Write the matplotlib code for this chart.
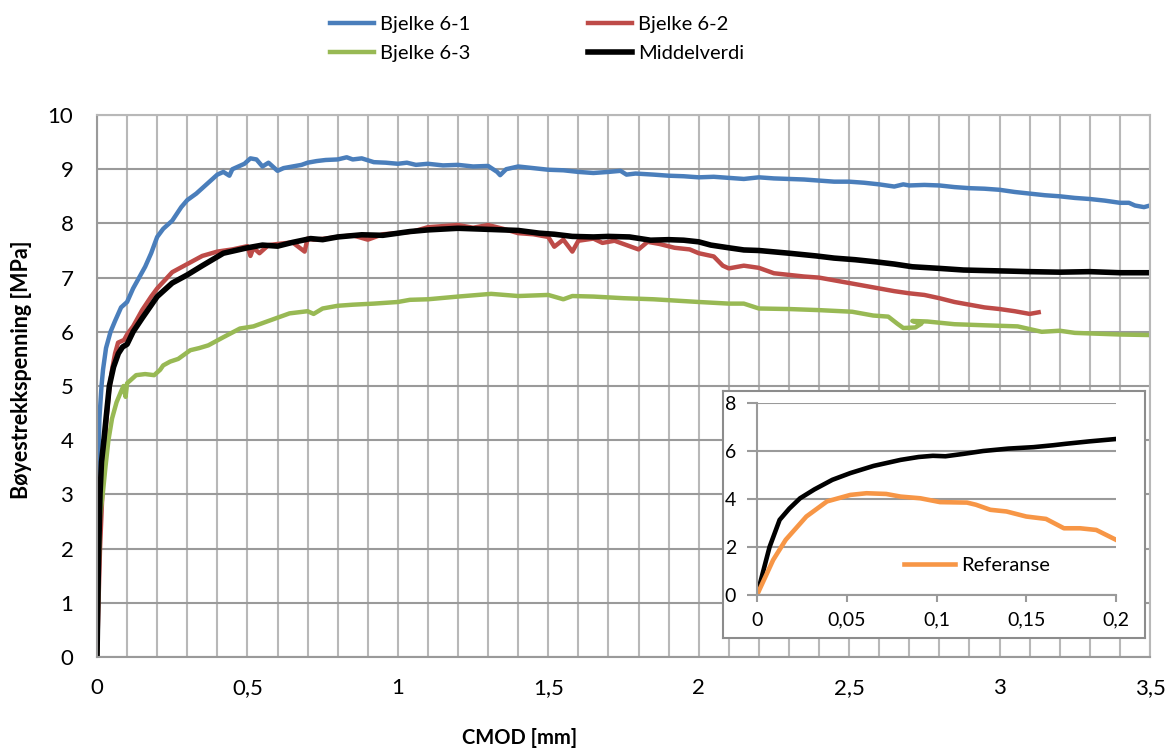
import matplotlib
matplotlib.use("Agg")
import matplotlib.pyplot as plt

plt.rcParams['font.family'] = ['Lato', 'DejaVu Sans']

# Bjelke 6-1
x1 = [0, 0.003, 0.008, 0.015, 0.02, 0.03, 0.045, 0.06, 0.08, 0.09, 0.1, 0.12, 0.14, 0.16, 0.18,
      0.2, 0.22, 0.25, 0.28, 0.3, 0.33, 0.36, 0.38, 0.4, 0.42, 0.44, 0.45, 0.47, 0.49, 0.51,
      0.53, 0.55, 0.57, 0.6, 0.62, 0.65, 0.68, 0.7, 0.73, 0.76, 0.8, 0.83, 0.85, 0.88, 0.92,
      0.96, 1.0, 1.03, 1.06, 1.1, 1.15, 1.2, 1.25, 1.3, 1.33, 1.34, 1.36, 1.4, 1.45, 1.5,
      1.55, 1.6, 1.65, 1.7, 1.74, 1.76, 1.79, 1.85, 1.9, 1.95, 2.0, 2.05, 2.1, 2.15, 2.2,
      2.25, 2.3, 2.35, 2.4, 2.45, 2.5, 2.55, 2.6, 2.65, 2.68, 2.7, 2.75, 2.8, 2.85, 2.9,
      2.95, 3.0, 3.05, 3.1, 3.15, 3.2, 3.25, 3.3, 3.35, 3.4, 3.43, 3.45, 3.48, 3.5]
y1 = [0, 3.2, 4.4, 5.0, 5.3, 5.7, 6.0, 6.2, 6.45, 6.5, 6.55, 6.8, 7.0, 7.2, 7.45,
      7.75, 7.9, 8.05, 8.3, 8.43, 8.55, 8.7, 8.8, 8.9, 8.95, 8.88, 9.0, 9.05, 9.1, 9.2,
      9.18, 9.05, 9.12, 8.97, 9.02, 9.05, 9.08, 9.12, 9.15, 9.17, 9.18, 9.22, 9.18, 9.2, 9.13,
      9.12, 9.1, 9.12, 9.08, 9.1, 9.07, 9.08, 9.05, 9.06, 8.95, 8.89, 9.0, 9.05, 9.02, 8.99,
      8.98, 8.95, 8.93, 8.95, 8.97, 8.9, 8.92, 8.9, 8.88, 8.87, 8.85, 8.86, 8.84, 8.82, 8.85,
      8.83, 8.82, 8.81, 8.79, 8.77, 8.77, 8.75, 8.72, 8.68, 8.72, 8.7, 8.71, 8.7, 8.67, 8.65,
      8.64, 8.62, 8.58, 8.55, 8.52, 8.5, 8.47, 8.45, 8.42, 8.38, 8.38, 8.33, 8.3, 8.33]

# Bjelke 6-2
x2 = [0, 0.005, 0.01, 0.02, 0.03, 0.04, 0.05, 0.06, 0.07, 0.09, 0.1, 0.12, 0.15, 0.18, 0.2,
      0.25, 0.3, 0.35, 0.4, 0.45, 0.5, 0.51, 0.52, 0.54, 0.57, 0.6, 0.65, 0.69, 0.7, 0.72,
      0.76, 0.8, 0.85, 0.9, 0.95, 1.0, 1.05, 1.1, 1.15, 1.2, 1.25, 1.3, 1.35, 1.4, 1.45,
      1.5, 1.52, 1.55, 1.58, 1.6, 1.65, 1.68, 1.72, 1.76, 1.8, 1.83, 1.87, 1.92, 1.97, 2.0,
      2.05, 2.08, 2.1, 2.15, 2.2, 2.25, 2.3, 2.35, 2.4, 2.45, 2.5, 2.55, 2.6, 2.65, 2.7,
      2.75, 2.8, 2.85, 2.9, 2.95, 3.0, 3.05, 3.1, 3.13]
y2 = [0, 1.0, 2.0, 3.3, 4.3, 4.9, 5.3, 5.6, 5.8, 5.85, 5.95, 6.1, 6.4, 6.65, 6.8,
      7.1, 7.25, 7.4, 7.48, 7.52, 7.58, 7.4, 7.55, 7.45, 7.6, 7.62, 7.65, 7.48, 7.72, 7.7,
      7.72, 7.75, 7.78, 7.7, 7.8, 7.82, 7.85, 7.93, 7.95, 7.97, 7.92, 7.97, 7.9, 7.82, 7.8,
      7.75, 7.57, 7.7, 7.48, 7.68, 7.72, 7.64, 7.68, 7.6, 7.52, 7.66, 7.62, 7.55, 7.52, 7.45,
      7.39, 7.22, 7.17, 7.22, 7.18, 7.08, 7.05, 7.02, 7.0, 6.95, 6.9, 6.85, 6.8, 6.75, 6.71,
      6.68, 6.62, 6.55, 6.5, 6.45, 6.42, 6.38, 6.33, 6.36]

# Bjelke 6-3
x3 = [0, 0.005, 0.01, 0.019, 0.028, 0.038, 0.05, 0.065, 0.08, 0.088, 0.095, 0.1, 0.11, 0.13, 0.16,
      0.19, 0.21, 0.22, 0.243, 0.27, 0.31, 0.34, 0.37, 0.42, 0.475, 0.52, 0.58, 0.64, 0.7, 0.72,
      0.75, 0.8, 0.85, 0.92, 1.0, 1.04, 1.1, 1.2, 1.31, 1.4, 1.5, 1.55, 1.58, 1.65, 1.75,
      1.85, 1.91, 2.0, 2.1, 2.15, 2.2, 2.3, 2.4, 2.51, 2.58, 2.63, 2.66, 2.68, 2.72, 2.74,
      2.71, 2.76, 2.85, 2.95, 3.06, 3.14, 3.2, 3.25, 3.3, 3.4, 3.5]
y3 = [0, 1.5, 2.6, 3.0, 3.5, 4.0, 4.4, 4.7, 4.9, 5.0, 4.8, 5.05, 5.1, 5.2, 5.22,
      5.2, 5.3, 5.38, 5.45, 5.5, 5.66, 5.7, 5.75, 5.9, 6.06, 6.1, 6.22, 6.34, 6.38, 6.33,
      6.43, 6.48, 6.5, 6.52, 6.55, 6.59, 6.6, 6.65, 6.7, 6.66, 6.68, 6.6, 6.66, 6.65, 6.62,
      6.6, 6.58, 6.55, 6.52, 6.52, 6.43, 6.42, 6.4, 6.37, 6.3, 6.28, 6.15, 6.07, 6.08, 6.15,
      6.2, 6.19, 6.14, 6.12, 6.1, 6.0, 6.02, 5.98, 5.97, 5.95, 5.94]

# Middelverdi
xm = [0, 0.005, 0.01, 0.015, 0.023, 0.03, 0.041, 0.055, 0.071, 0.085, 0.1, 0.12, 0.15, 0.2, 0.25,
      0.3, 0.35, 0.42, 0.5, 0.55, 0.6, 0.65, 0.71, 0.75, 0.8, 0.88, 0.95, 1.04, 1.1, 1.2,
      1.3, 1.4, 1.47, 1.52, 1.58, 1.65, 1.7, 1.77, 1.84, 1.9, 1.95, 2.0, 2.04, 2.1, 2.15,
      2.2, 2.3, 2.39, 2.45, 2.52, 2.59, 2.65, 2.71, 2.8, 2.88, 2.95, 3.03, 3.1, 3.2, 3.3,
      3.4, 3.5]
ym = [0, 1.8, 3.0, 3.6, 4.0, 4.4, 5.0, 5.35, 5.6, 5.72, 5.77, 6.0, 6.25, 6.65, 6.9,
      7.05, 7.22, 7.45, 7.55, 7.6, 7.58, 7.65, 7.72, 7.7, 7.75, 7.79, 7.78, 7.85, 7.88, 7.91,
      7.89, 7.87, 7.82, 7.8, 7.76, 7.75, 7.76, 7.75, 7.69, 7.7, 7.69, 7.66, 7.6, 7.55, 7.51,
      7.5, 7.45, 7.4, 7.36, 7.33, 7.29, 7.25, 7.2, 7.17, 7.14, 7.13, 7.12, 7.11, 7.1, 7.11,
      7.09, 7.09]

# innfelt: referanse og middelverdi for liten CMOD
xi_mid = [0, 0.007, 0.0126, 0.018, 0.024, 0.032, 0.042, 0.052, 0.065, 0.08, 0.09, 0.098, 0.105,
          0.115, 0.126, 0.14, 0.154, 0.165, 0.172, 0.185, 0.2]
yi_mid = [0, 2.0, 3.13, 3.6, 4.03, 4.4, 4.8, 5.08, 5.38, 5.63, 5.75, 5.8, 5.78, 5.88, 6.0,
          6.1, 6.16, 6.24, 6.3, 6.4, 6.5]
xi_ref = [0, 0.009, 0.016, 0.0275, 0.039, 0.052, 0.061, 0.072, 0.08, 0.091, 0.102, 0.117, 0.122,
          0.13, 0.139, 0.15, 0.161, 0.171, 0.18, 0.189, 0.2]
yi_ref = [0, 1.46, 2.3, 3.27, 3.9, 4.17, 4.24, 4.21, 4.1, 4.03, 3.87, 3.85, 3.76,
          3.55, 3.48, 3.27, 3.17, 2.78, 2.78, 2.71, 2.3]

c1 = '#4A7EBB'
c2 = '#BE4B48'
c3 = '#98B954'
cref = '#F79646'
grid_h = '#9a9a9a'
grid_v = '#b8b8b8'

fig = plt.figure(figsize=(11.72, 7.51), dpi=100)
ax = fig.add_axes([97 / 1172, 1 - 657 / 751, (1150 - 97) / 1172, (657 - 115) / 751])

l1, = ax.plot(x1, y1, color=c1, lw=3.2, label='Bjelke 6-1')
l2, = ax.plot(x2, y2, color=c2, lw=3.2, label='Bjelke 6-2')
l3, = ax.plot(x3, y3, color=c3, lw=3.2, label='Bjelke 6-3')
lm, = ax.plot(xm, ym, color='black', lw=4, label='Middelverdi')

ax.set_xlim(0, 3.5)
ax.set_ylim(0, 10)
ax.set_xticks([0, 0.5, 1, 1.5, 2, 2.5, 3, 3.5])
ax.set_xticklabels(['0', '0,5', '1', '1,5', '2', '2,5', '3', '3,5'])
ax.set_xticks([i / 10 for i in range(36)], minor=True)
ax.set_yticks(range(11))
ax.tick_params(which='both', length=0, labelsize=16)
ax.tick_params(axis='y', pad=17)
ax.tick_params(axis='x', pad=15)
ax.grid(which='major', axis='y', color=grid_h, lw=1.5)
ax.grid(which='minor', axis='x', color=grid_v, lw=1.5)
ax.grid(which='major', axis='x', color=grid_v, lw=1.5)
ax.set_axisbelow(True)
for s in ax.spines.values():
    s.set_color(grid_h)
    s.set_linewidth(1.5)
ax.spines['top'].set_color(grid_v)
ax.spines['right'].set_color(grid_v)

fig.text(22 / 1172, 1 - 370 / 751, 'Bøyestrekkspenning [MPa]', rotation=90,
         ha='center', va='center', fontsize=15.5, fontweight='bold')
fig.text(520 / 1172, 1 - 738 / 751, 'CMOD [mm]', ha='center', va='center',
         fontsize=14.5, fontweight='bold')

fig.legend([l1, l3, l2, lm], ['Bjelke 6-1', 'Bjelke 6-3', 'Bjelke 6-2', 'Middelverdi'],
           ncol=2, loc='upper left', bbox_to_anchor=(312 / 1172, 1 + 2 / 751),
           frameon=False, fontsize=14.5, handlelength=2.2, handletextpad=0.3,
           columnspacing=5.8, labelspacing=0.6)

# innfelt diagram
bg = fig.add_axes([723 / 1172, 1 - 638 / 751, (1145 - 723) / 1172, (638 - 391) / 751])
bg.set_xticks([])
bg.set_yticks([])
bg.set_facecolor('white')
for s in bg.spines.values():
    s.set_color('#8c8c8c')
    s.set_linewidth(1.5)

ax_in = fig.add_axes([757 / 1172, 1 - 595 / 751, (1116 - 757) / 1172, (595 - 403) / 751])
ax_in.set_facecolor('none')
ax_in.plot(xi_mid, yi_mid, color='black', lw=3.3)
ax_in.plot(xi_ref, yi_ref, color=cref, lw=3.3, label='Referanse')
ax_in.set_xlim(0, 0.2)
ax_in.set_ylim(0, 8)
ax_in.set_xticks([0, 0.05, 0.1, 0.15, 0.2])
ax_in.set_xticklabels(['0', '0,05', '0,1', '0,15', '0,2'])
ax_in.set_yticks([0, 2, 4, 6, 8])
ax_in.grid(axis='y', color=grid_h, lw=1.5)
ax_in.set_axisbelow(True)
ax_in.tick_params(axis='x', length=5, width=1.5, color=grid_h, labelsize=14, pad=7)
ax_in.tick_params(axis='y', length=7, width=1.5, color=grid_h, labelsize=14, pad=8)
ax_in.spines['top'].set_visible(False)
ax_in.spines['right'].set_visible(False)
ax_in.spines['left'].set_color(grid_h)
ax_in.spines['bottom'].set_color(grid_h)
ax_in.spines['left'].set_linewidth(1.5)
ax_in.spines['bottom'].set_linewidth(1.5)
ax_in.legend(loc='center left', bbox_to_anchor=(0.36, 0.156), frameon=False,
             fontsize=14.5, handlelength=2.5, handletextpad=0.3)

fig.savefig('out.png', dpi=100)
